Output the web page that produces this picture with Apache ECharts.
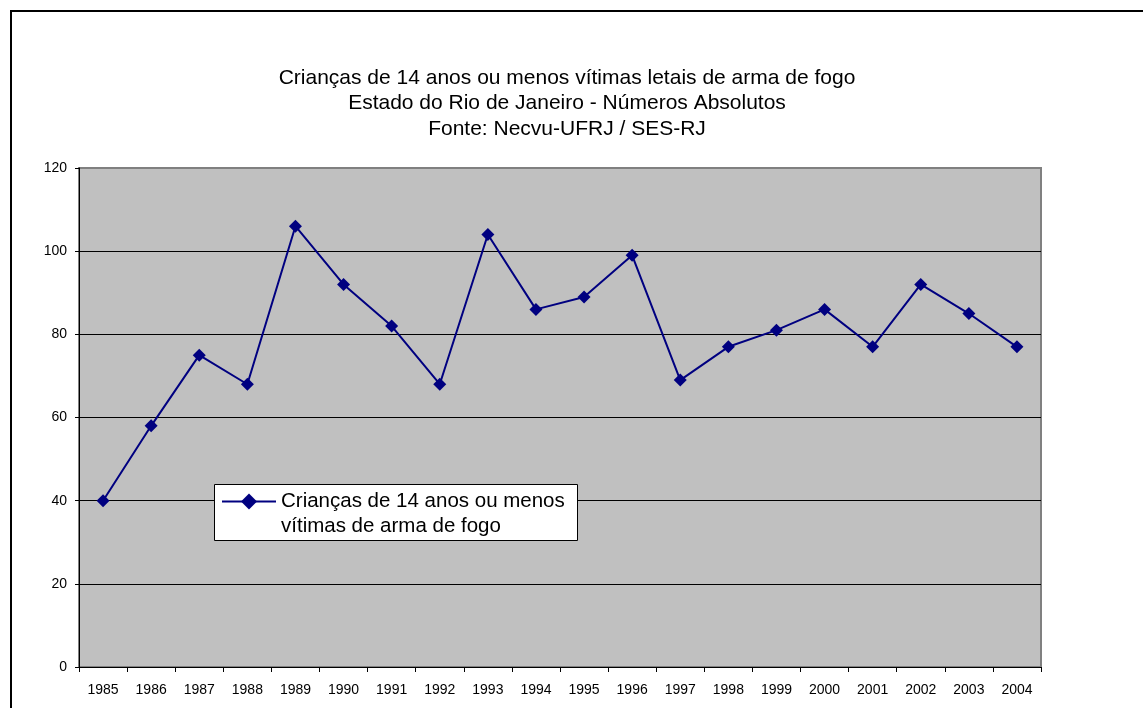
<!DOCTYPE html>
<html>
<head>
<meta charset="utf-8">
<script src="https://cdn.jsdelivr.net/npm/echarts@6/dist/echarts.min.js"></script>
<style>
  html, body { margin: 0; padding: 0; background: #fff; }
  #main { width: 1143px; height: 708px; }
</style>
</head>
<body>
<div id="main"></div>
<script>
// dados
var anos = ['1985', '1986', '1987', '1988', '1989', '1990', '1991', '1992', '1993', '1994',
            '1995', '1996', '1997', '1998', '1999', '2000', '2001', '2002', '2003', '2004'];
var vitimas = [40, 58, 75, 68, 106, 92, 82, 68, 104, 86, 89, 99, 69, 77, 81, 86, 77, 92, 85, 77];
var nomeSerie = 'Crianças de 14 anos ou menos\nvítimas de arma de fogo';
var titulo = 'Crianças de 14 anos ou menos vítimas letais de arma de fogo\nEstado do Rio de Janeiro - Números Absolutos\nFonte: Necvu-UFRJ / SES-RJ';

var chart = echarts.init(document.getElementById('main'), null, { renderer: 'canvas' });

var option = {
  animation: false,
  textStyle: { fontFamily: 'Liberation Sans, Arial, sans-serif' },
  title: {
    text: titulo,
    left: 562,
    textAlign: 'center',
    top: 60,
    textStyle: { fontSize: 21, fontWeight: 'normal', color: '#000', lineHeight: 25.5 }
  },
  graphic: [{
    // moldura externa
    type: 'rect',
    shape: { x: 11, y: 11, width: 1200, height: 800 },
    style: { fill: 'none', stroke: '#000', lineWidth: 2 },
    silent: true
  }, {
    // caixa da legenda
    type: 'rect',
    z: 3,
    shape: { x: 214.5, y: 484.5, width: 363, height: 56 },
    style: { fill: '#fff', stroke: '#000', lineWidth: 1 },
    silent: true
  }],
  legend: {
    left: 221,
    top: 464,
    orient: 'vertical',
    padding: 0,
    itemWidth: 54,
    itemHeight: 20,
    itemGap: 0,
    // linha vazia em cima para alinhar o icone com a primeira linha
    formatter: function (nome) { return ' \n' + nome; },
    textStyle: { fontSize: 20.5, color: '#000', lineHeight: 25 },
    data: [{ name: nomeSerie }]
  },
  grid: {
    left: 79,
    right: 102,
    top: 168,
    bottom: 41,
    show: true,
    backgroundColor: '#c0c0c0',
    borderColor: '#808080',
    borderWidth: 2
  },
  xAxis: {
    type: 'category',
    data: anos,
    boundaryGap: true,
    axisLine: { lineStyle: { color: '#000', width: 1 } },
    axisTick: { show: true, length: 5, lineStyle: { color: '#000' } },
    axisLabel: { color: '#000', fontSize: 14, margin: 16 },
    splitLine: { show: false }
  },
  yAxis: {
    type: 'value',
    min: 0,
    max: 120,
    interval: 20,
    axisLine: { show: true, lineStyle: { color: '#000', width: 1 } },
    axisTick: { show: true, length: 4, lineStyle: { color: '#000' } },
    axisLabel: { color: '#000', fontSize: 14, margin: 12 },
    splitLine: {
      show: true,
      lineStyle: { color: ['#000', '#000', '#000', '#000', '#000', '#000', '#808080'], width: 1 }
    }
  },
  series: [{
    name: nomeSerie,
    type: 'line',
    data: vitimas,
    symbol: 'diamond',
    symbolSize: 13,
    lineStyle: { color: '#000080', width: 2 },
    itemStyle: { color: '#000080' }
  }]
};

chart.setOption(option);
</script>
</body>
</html>
